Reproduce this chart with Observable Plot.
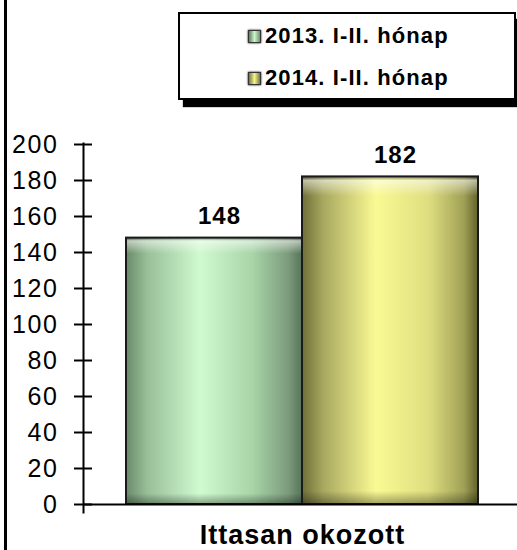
<!DOCTYPE html>
<html>
<head>
<meta charset="utf-8">
<script src="https://cdn.jsdelivr.net/npm/d3@7"></script>
<script src="https://cdn.jsdelivr.net/npm/@observablehq/plot@0.6"></script>
<style>
  html, body { margin: 0; padding: 0; background: #fff; overflow: hidden; }
  body { width: 517px; height: 550px; position: relative; font-family: "Liberation Sans", Arial, sans-serif; }
  #border { position: absolute; left: 4px; top: 0; width: 3px; height: 550px; background: #000; }
  #legend { position: absolute; left: 178px; top: 12px; width: 334px; height: 84px; border: 2px solid #000;
            box-shadow: 5px 7px 1px #000; background: #fff; z-index: 2; }
  .item { position: absolute; left: 68px; display: flex; align-items: center; font-weight: bold; font-size: 22px;
          letter-spacing: 1.1px; color: #000; white-space: nowrap; }
  .sw { width: 11px; height: 11px; border: 1px solid #333; box-shadow: 0 0 2px #000; margin-right: 4px; }
  #chart { position: absolute; left: 0; top: 0; }
  #chart g[aria-label="y-axis tick label"] { font-size: 25px; letter-spacing: 1.6px; }
  #chart g.vlab { letter-spacing: 1px; }
  #chart g.clab { letter-spacing: 1px; }
</style>
</head>
<body>
<svg width="0" height="0" style="position:absolute">
  <defs>
    <linearGradient id="gGreen" x1="0" x2="1" y1="0" y2="0">
      <stop offset="0" stop-color="#6a8a6a"/>
      <stop offset="0.12" stop-color="#98bf98"/>
      <stop offset="0.42" stop-color="#d0fad0"/>
      <stop offset="0.72" stop-color="#a8d4a8"/>
      <stop offset="0.92" stop-color="#7c9c7c"/>
      <stop offset="1" stop-color="#56745a"/>
    </linearGradient>
    <linearGradient id="gYellow" x1="0" x2="1" y1="0" y2="0">
      <stop offset="0" stop-color="#6e6e38"/>
      <stop offset="0.12" stop-color="#a8a860"/>
      <stop offset="0.42" stop-color="#fafa94"/>
      <stop offset="0.72" stop-color="#dede80"/>
      <stop offset="0.92" stop-color="#a0a056"/>
      <stop offset="1" stop-color="#62622c"/>
    </linearGradient>
    <linearGradient id="gShine" x1="0" x2="0" y1="0" y2="1">
      <stop offset="0" stop-color="#000" stop-opacity="0.35"/>
      <stop offset="0.012" stop-color="#fff" stop-opacity="0.55"/>
      <stop offset="0.06" stop-color="#fff" stop-opacity="0"/>
      <stop offset="0.96" stop-color="#000" stop-opacity="0"/>
      <stop offset="1" stop-color="#000" stop-opacity="0.35"/>
    </linearGradient>
  </defs>
</svg>
<div id="border"></div>
<div id="legend"></div>
<div id="chart"></div>
<script>
const categories = ["Ittasan okozott"];
const years = ["2013. I-II. hónap", "2014. I-II. hónap"];
const values = [148, 182];
const yTicks = [0, 20, 40, 60, 80, 100, 120, 140, 160, 180, 200];

const fills = ["url(#gGreen)", "url(#gYellow)"];
const swatchBg = [
  "linear-gradient(to right, #5f7f5f, #cdf5cd 50%, #6f8f6f)",
  "linear-gradient(to right, #77773c, #f5f590 50%, #77773c)"
];

const data = years.map((y, i) => ({year: y, value: values[i], category: categories[0]}));

// legend
const legend = document.getElementById("legend");
years.forEach((y, i) => {
  const it = document.createElement("div");
  it.className = "item";
  it.style.top = (i === 0 ? 9 : 51) + "px";
  const sw = document.createElement("span");
  sw.className = "sw";
  sw.style.background = swatchBg[i];
  const t = document.createElement("span");
  t.textContent = y;
  it.appendChild(sw);
  it.appendChild(t);
  legend.appendChild(it);
});

const chart = Plot.plot({
  width: 517,
  height: 550,
  marginLeft: 83,
  marginRight: 0,
  marginTop: 143,
  marginBottom: 38,
  style: {fontFamily: "'Liberation Sans', Arial, sans-serif", background: "transparent", color: "#000", overflow: "visible"},
  x: {domain: years, range: [125, 478], padding: 0, axis: null},
  y: {domain: [0, 200], range: [504, 144], label: null, axis: null},
  marks: [
    Plot.frame({anchor: "left", stroke: "#000", strokeWidth: 2}),
    Plot.axisY(yTicks, {tickSize: 18, dx: 9, tickPadding: 16, fontSize: 25, strokeWidth: 2, stroke: "#000", label: null, tickFormat: d => String(d)}),
    ...years.map((yr, i) => Plot.barY(data, {filter: d => d.year === yr, x: "year", y: "value", fill: fills[i]})),
    Plot.barY(data, {x: "year", y: "value", fill: "url(#gShine)", stroke: "#1a1a1a", strokeWidth: 2}),
    Plot.ruleY([0], {stroke: "#000", strokeWidth: 2}),
    Plot.text(data, {x: "year", y: "value", text: d => String(d.value), dy: -14, dx: 5, lineAnchor: "bottom", fontSize: 24, fontWeight: "bold", fill: "#000", className: "vlab"}),
    Plot.text(categories, {text: d => d, frameAnchor: "bottom", lineAnchor: "middle", dy: 23, dx: 2, fontSize: 27, fontWeight: "bold", fill: "#000", className: "clab"})
  ]
});
document.getElementById("chart").appendChild(chart);
</script>
</body>
</html>
